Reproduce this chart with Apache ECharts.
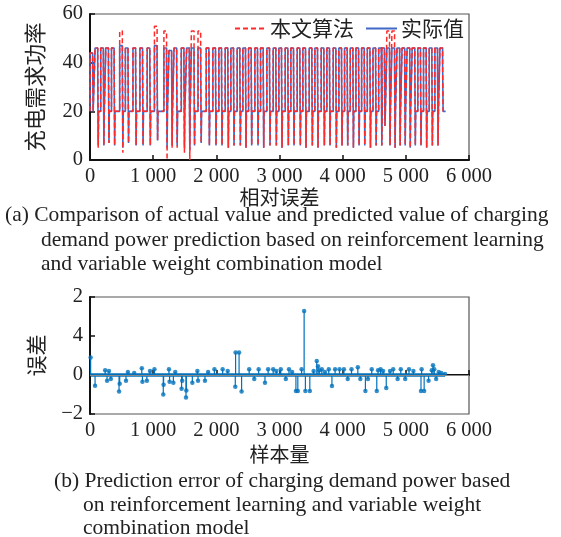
<!DOCTYPE html>
<html>
<head>
<meta charset="utf-8">
<script src="https://cdn.jsdelivr.net/npm/echarts@6/dist/echarts.min.js"></script>
<style>
html,body{margin:0;padding:0;background:#fff;}
#c{width:561px;height:537px;}
</style>
</head>
<body>
<div id="c"></div>
<script>
// ---------- data ----------
const xTickLabels = ['0', '1 000', '2 000', '3 000', '4 000', '5 000', '6 000'];
const powerTickLabels = ['0', '20', '40', '60'];
const errTickValues = [-2, 0, 2, 4];
const errTickLabels = ['\u22122', '0', '4', '2'];

// charging-demand pulses: start sample of each pulse
const pulseStart = [0, 80, 170, 250, 340, 470, 560, 680, 790, 905, 1020, 1170, 1250, 1330, 1445, 1530, 1605, 1710, 1840, 1945,
  2040, 2140, 2230, 2330, 2420, 2510, 2610, 2700, 2800, 2900, 2990, 3090, 3180, 3280, 3370, 3470, 3560, 3660, 3750, 3850, 3940,
  4030, 4120, 4210, 4300, 4390, 4480, 4570, 4620, 4700, 4780, 4860, 4940, 5020, 5100, 5190, 5280, 5370, 5460, 5540];
const actualTop = [44, 46, 46, 46, 46, 47, 46, 46, 46, 46, 47, 46, 45, 46, 46, 46, 46, 46, 46, 46,
  46, 46, 46, 46, 46, 46, 46, 46, 46, 46, 46, 46, 46, 46, 46, 46, 46, 46, 46, 46, 46,
  46, 46, 46, 46, 46, 46, 46, 46, 46, 46, 46, 46, 46, 46, 46, 46, 46, 46, 46];
const actualLow = [20, 6, 6, 7, 6, 5, 7, 6, 6, 6, 8, 5, 6, 6, 5, 4, 6, 7, 6, 6,
  6, 5, 6, 6, 5, 6, 6, 5, 6, 6, 5, 6, 6, 6, 5, 6, 5, 6, 6, 5, 6,
  6, 5, 6, 6, 5, 6, 6, 14, 6, 5, 6, 6, 5, 6, 6, 5, 6, 6, 20];
const predTop = [44, 46, 46, 46, 46, 53, 46, 46, 46, 46, 55, 53, 45, 46, 46, 46, 53, 53, 46, 46,
  46, 46, 46, 46, 46, 46, 46, 46, 46, 46, 46, 46, 46, 46, 46, 46, 46, 46, 46, 46, 46,
  46, 46, 46, 46, 46, 46, 46, 46, 53, 53, 46, 46, 46, 46, 46, 46, 46, 46, 46];
const predLow = [20, 5, 6, 7, 6, 3, 7, 6, 6, 6, 8, 0, 5, 5, 3, 0, 6, 7, 6, 6,
  6, 5, 6, 6, 5, 6, 6, 5, 6, 6, 5, 6, 6, 6, 5, 6, 5, 6, 6, 5, 6,
  6, 5, 6, 6, 5, 6, 6, 14, 6, 5, 6, 6, 5, 6, 6, 5, 6, 6, 20];
const stepLevel = 40, baseLevel = 20;
const pulseShape = [42, 8, 6];   // samples held at top, at step, at the low dip
const seriesEnd = 5630;

// prediction error (sample, value)
const errX = [10, 80, 240, 270, 300, 330, 460, 470, 570, 600, 700, 820, 830, 900, 950, 1020, 1160, 1165, 1250, 1260, 1320, 1350,
  1450, 1460, 1520, 1525, 1620, 1700, 1710, 1820, 1870, 1970, 2100, 2180, 2300, 2305, 2360, 2400, 2520, 2600, 2670, 2770,
  2820, 2900, 2950, 3020, 3100, 3150, 3200, 3260, 3290, 3350, 3390, 3410, 3480, 3540, 3590, 3610, 3630, 3670, 3720, 3780,
  3830, 3880, 3950, 4020, 4080, 4140, 4240, 4280, 4360, 4400, 4460, 4540, 4560, 4600, 4640, 4690, 4750, 4800, 4870, 4920,
  4990, 5050, 5120, 5240, 5250, 5290, 5360, 5410, 5430, 5450, 5480, 5520, 5560, 5620];
const errY = [0.9, -0.55, 0.25, -0.3, 0.2, -0.2, -0.85, -0.45, -0.3, 0.15, 0.1, 0.35, -0.35, -0.3, 0.2, 0.3, -1.0, -0.5, 0.3, -0.35, -0.4, 0.15,
  -0.7, -0.3, -1.15, -0.8, -0.4, 0.2, -0.3, -0.3, 0.15, 0.3, 0.3, 0.2, -0.6, 1.16, 1.16, -0.85, 0.3, -0.2, 0.3, -0.4,
  0.3, 0.3, 0.2, 0.3, -0.2, 0.3, 0.15, -0.82, -0.82, 0.3, 3.28, -0.82, -0.82, 0.2, 0.72, 0.45, 0.25, 0.3, 0.15, 0.3,
  -0.56, 0.3, 0.3, 0.3, -0.2, 0.3, 0.4, -0.2, -0.82, -0.2, 0.3, -0.82, 0.25, 0.3, 0.2, -0.67, 0.2, 0.3, -0.2, 0.3,
  -0.2, 0.3, 0.2, -0.82, 0.3, -0.82, -0.3, 0.25, 0.5, 0.3, -0.2, 0.15, 0.1, 0.05];

// ---------- build polylines from the pulse table ----------
function buildLine(tops, lows) {
  const pts = [];
  for (let i = 0; i < pulseStart.length; i++) {
    const s = pulseStart[i];
    const a = s + pulseShape[0], b = a + pulseShape[1], c = b + pulseShape[2];
    pts.push([s, baseLevel], [s, tops[i]], [a, tops[i]], [a, stepLevel], [b, stepLevel], [b, lows[i]], [c, lows[i]], [c, baseLevel]);
  }
  pts.push([seriesEnd, baseLevel]);
  return pts;
}
const actualLine = buildLine(actualTop, actualLow);
const predLine = buildLine(predTop, predLow);
const errPts = errX.map((x, i) => [x, errY[i]]);

const serif = 'Liberation Serif';
const cjk = 'Noto Sans CJK SC';
const txt = '#222';
const errBlue = '#0072BD';
const capFont = '21.5px "Liberation Serif"';

const chart = echarts.init(document.getElementById('c'), null, {renderer: 'canvas'});

function xAxisCfg(gridIndex, name, gap) {
  return {
    type: 'value', gridIndex, min: 0, max: 6000, interval: 1000,
    name, nameLocation: 'middle', nameGap: gap,
    nameTextStyle: {fontFamily: cjk, fontSize: 20, color: txt},
    axisLine: {show: true, lineStyle: {color: '#111', width: 2}},
    axisTick: {show: true, inside: true, length: 5, lineStyle: {color: '#111', width: 1.5}},
    axisLabel: {formatter: v => xTickLabels[Math.round(v / 1000)], fontFamily: serif, fontSize: 20.5, color: txt, margin: 6},
    splitLine: {show: false}
  };
}

const option = {
  animation: false,
  backgroundColor: '#fff',
  grid: [
    {left: 90, top: 14, width: 379, height: 146, show: true, borderColor: '#555', borderWidth: 1.2},
    {left: 90, top: 297, width: 379, height: 117, show: true, borderColor: '#555', borderWidth: 1.2}
  ],
  xAxis: [xAxisCfg(0, '相对误差', 27), xAxisCfg(1, '样本量', 30)],
  yAxis: [
    {
      type: 'value', gridIndex: 0, min: 0, max: 60, interval: 20,
      name: '充电需求功率', nameLocation: 'middle', nameGap: 44,
      nameTextStyle: {fontFamily: cjk, fontSize: 21.5, color: txt},
      axisLine: {show: true, lineStyle: {color: '#111', width: 2}},
      axisTick: {show: true, inside: true, length: 5, lineStyle: {color: '#111', width: 1.5}},
      axisLabel: {formatter: v => powerTickLabels[Math.round(v / 20)], fontFamily: serif, fontSize: 20.5, color: txt, margin: 7},
      splitLine: {show: false}
    },
    {
      type: 'value', gridIndex: 1, min: -2, max: 4, interval: 2,
      name: '误差', nameLocation: 'middle', nameGap: 43,
      nameTextStyle: {fontFamily: cjk, fontSize: 21, color: txt},
      axisLine: {show: true, lineStyle: {color: '#111', width: 2}},
      axisTick: {show: true, inside: true, length: 5, lineStyle: {color: '#111', width: 1.5}},
      axisLabel: {formatter: v => errTickLabels[errTickValues.indexOf(Math.round(v))], fontFamily: serif, fontSize: 20.5, color: txt, margin: 7},
      splitLine: {show: false}
    }
  ],
  legend: {
    data: ['本文算法', '实际值'],
    right: 92, top: 13, itemWidth: 31, itemHeight: 14, itemGap: 11,
    itemStyle: {opacity: 0},
    textStyle: {fontFamily: cjk, fontSize: 21, color: txt, padding: [0, 0, 0, -1]},
    backgroundColor: 'transparent'
  },
  series: [
    {
      name: '实际值', type: 'line', xAxisIndex: 0, yAxisIndex: 0, data: actualLine,
      symbol: 'none', lineStyle: {color: '#4169c8', width: 1.6}, itemStyle: {color: '#4169c8'}, z: 2
    },
    {
      name: '本文算法', type: 'line', xAxisIndex: 0, yAxisIndex: 0, data: predLine,
      symbol: 'none', lineStyle: {color: '#ff2a2a', width: 1.5, type: [5, 3]}, itemStyle: {color: '#ff2a2a'}, z: 3
    },
    {
      type: 'line', xAxisIndex: 1, yAxisIndex: 1, data: [], symbol: 'none', z: 1,
      markLine: {silent: true, symbol: 'none', label: {show: false}, lineStyle: {color: '#888', width: 1, type: 'solid'}, data: [{yAxis: 0}]}
    },
    {
      type: 'line', xAxisIndex: 1, yAxisIndex: 1, z: 2, symbol: 'none',
      data: [[errX[0], 0], [errX[errX.length - 1], 0]],
      lineStyle: {color: errBlue, width: 3.5}
    },
    {
      type: 'custom', xAxisIndex: 1, yAxisIndex: 1, z: 3, data: errPts,
      renderItem: (params, api) => {
        const p0 = api.coord([api.value(0), 0]);
        const p1 = api.coord([api.value(0), api.value(1)]);
        return {type: 'line', shape: {x1: p0[0], y1: p0[1], x2: p1[0], y2: p1[1]}, style: {stroke: errBlue, lineWidth: 1.2}};
      }
    },
    {
      type: 'scatter', xAxisIndex: 1, yAxisIndex: 1, z: 4, data: errPts,
      symbol: 'circle', symbolSize: 4.5, itemStyle: {color: errBlue}
    }
  ],
  graphic: [
    {type: 'text', left: 5, top: 204, style: {text: '(a) Comparison of actual value and predicted value of charging', font: capFont, fill: txt}},
    {type: 'text', left: 41, top: 229, style: {text: 'demand power prediction based on reinforcement learning', font: capFont, fill: txt}},
    {type: 'text', left: 41, top: 253, style: {text: 'and variable weight combination model', font: capFont, fill: txt}},
    {type: 'text', left: 54, top: 470, style: {text: '(b) Prediction error of charging demand power based', font: capFont, fill: txt}},
    {type: 'text', left: 83, top: 494, style: {text: 'on reinforcement learning and variable weight', font: capFont, fill: txt}},
    {type: 'text', left: 83, top: 517, style: {text: 'combination model', font: capFont, fill: txt}}
  ]
};
chart.setOption(option);
</script>
</body>
</html>
